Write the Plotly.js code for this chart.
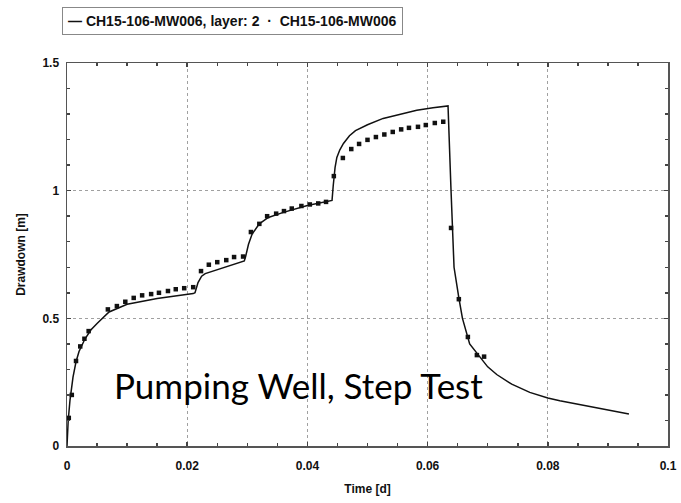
<!DOCTYPE html>
<html>
<head>
<meta charset="utf-8">
<script src="https://cdn.plot.ly/plotly-3.0.1.min.js"></script>
<style>html,body{margin:0;padding:0;background:#fff;}#chart{width:681px;height:503px;}</style>
</head>
<body>
<div id="chart"></div>
<script>
// Model curve: CH15-106-MW006, layer: 2
const modelTime = [0, 0.0002, 0.0005, 0.001, 0.0015, 0.002, 0.003, 0.004, 0.005, 0.007, 0.01, 0.015, 0.021,
  0.0213, 0.0218, 0.0224, 0.023, 0.025, 0.027, 0.0295,
  0.0297, 0.0302, 0.0308, 0.032, 0.0335, 0.036, 0.04, 0.0441,
  0.0443, 0.0446, 0.0449, 0.0454, 0.046, 0.047, 0.048, 0.05, 0.0526, 0.0554, 0.0582, 0.0609, 0.0634,
  0.0639, 0.0641, 0.0644, 0.0652, 0.0658, 0.067, 0.07, 0.0715, 0.074, 0.077, 0.08, 0.082, 0.086, 0.09, 0.0935];
const modelDrawdown = [0, 0.1, 0.18, 0.27, 0.33, 0.37, 0.42, 0.455, 0.48, 0.525, 0.555, 0.578, 0.597,
  0.60, 0.64, 0.665, 0.675, 0.69, 0.705, 0.725,
  0.74, 0.79, 0.83, 0.87, 0.895, 0.915, 0.942, 0.962,
  1.02, 1.09, 1.13, 1.16, 1.185, 1.215, 1.235, 1.258, 1.283, 1.30, 1.315, 1.325, 1.332,
  1.0, 0.85, 0.70, 0.58, 0.50, 0.40, 0.31, 0.28, 0.242, 0.21, 0.188, 0.177, 0.158, 0.14, 0.125];

// Observed: CH15-106-MW006
const obsTime = [0.0003, 0.0008, 0.0015, 0.0022, 0.0029, 0.0036,
  0.0068, 0.0083, 0.0097, 0.0111, 0.0125, 0.014, 0.0153, 0.0168, 0.0181, 0.0195, 0.021,
  0.0223, 0.0236, 0.025, 0.0265, 0.0278, 0.0293,
  0.0306, 0.032, 0.0333, 0.0348, 0.0361, 0.0374, 0.039, 0.0404, 0.0418, 0.0431,
  0.0444, 0.0459, 0.0473, 0.0486, 0.05, 0.0514, 0.0528, 0.0542, 0.0556, 0.0569, 0.0584, 0.0597, 0.0612, 0.0626,
  0.0639, 0.0652, 0.0667, 0.0682, 0.0694];
const obsDrawdown = [0.11, 0.2, 0.333, 0.39, 0.42, 0.45,
  0.535, 0.548, 0.565, 0.58, 0.59, 0.595, 0.60, 0.607, 0.614, 0.618, 0.622,
  0.685, 0.71, 0.72, 0.728, 0.74, 0.742,
  0.838, 0.87, 0.90, 0.91, 0.92, 0.93, 0.94, 0.946, 0.95, 0.956,
  1.057, 1.128, 1.163, 1.183, 1.199, 1.21, 1.22, 1.23, 1.24, 1.246, 1.25, 1.257, 1.265, 1.27,
  0.854, 0.575, 0.427, 0.356, 0.35];

const xTicks = [0, 0.02, 0.04, 0.06, 0.08, 0.1];
const xTickText = ["0", "0.02", "0.04", "0.06", "0.08", "0.1"];
const yTicks = [0, 0.5, 1, 1.5];
const yTickText = ["0", "0.5", "1", "1.5"];

const bold = s => '<b>' + s + '</b>';
const FONT = 'Liberation Sans, Arial, sans-serif';

const traces = [
  {x: modelTime, y: modelDrawdown, type: 'scatter', mode: 'lines', name: 'CH15-106-MW006, layer: 2',
   line: {color: '#111', width: 1.5}, showlegend: false},
  {x: obsTime, y: obsDrawdown, type: 'scatter', mode: 'markers', name: 'CH15-106-MW006',
   marker: {symbol: 'square', size: 4.5, color: '#111'}, showlegend: false}
];

const axisCommon = {
  showline: true, linecolor: '#555', linewidth: 1.5, mirror: 'ticks',
  ticks: 'inside', ticklen: 4, tickcolor: '#444', tickwidth: 1.5,
  showgrid: true, gridcolor: '#a0a0a0', griddash: 'dot', gridwidth: 1,
  zeroline: false,
  tickfont: {family: FONT, size: 12, color: '#111'}
};

const layout = {
  width: 681, height: 503,
  margin: {l: 67, r: 13, t: 63, b: 57},
  paper_bgcolor: '#fff', plot_bgcolor: '#fff',
  xaxis: Object.assign({}, axisCommon, {
    range: [0, 0.1], tickvals: xTicks, ticktext: xTickText.map(bold), ticklabelstandoff: 8,
    minor: {dtick: 0.005, ticks: 'inside', ticklen: 3, tickcolor: '#444', showgrid: false},
    title: {text: bold('Time [d]'), standoff: 12, font: {family: FONT, size: 12, color: '#111'}}
  }),
  yaxis: Object.assign({}, axisCommon, {
    range: [0, 1.5], tickvals: yTicks, ticktext: yTickText.map(bold), ticklabelstandoff: 4,
    minor: {dtick: 0.1, ticks: 'inside', ticklen: 3, tickcolor: '#444', showgrid: false},
    title: {text: bold('Drawdown [m]'), standoff: 14, font: {family: FONT, size: 12, color: '#111'}}
  }),
  annotations: [
    {xref: 'paper', yref: 'paper', x: 0, y: 1.0, xanchor: 'left', yanchor: 'bottom', yshift: 28, xshift: -5,
     text: bold('— CH15-106-MW006, layer: 2  ·  CH15-106-MW006'), showarrow: false, align: 'left',
     font: {family: FONT, size: 14, color: '#111'},
     bordercolor: '#888', borderwidth: 1, borderpad: 5, bgcolor: '#fff'},
    {xref: 'x', yref: 'y', x: 0.0385, y: 0.24, xanchor: 'center', yanchor: 'middle',
     text: 'Pumping Well, Step Test', showarrow: false,
     font: {family: 'Lato, Open Sans, sans-serif', size: 35, color: '#000'}}
  ]
};

Plotly.newPlot('chart', traces, layout, {staticPlot: true, displayModeBar: false});
</script>
</body>
</html>
